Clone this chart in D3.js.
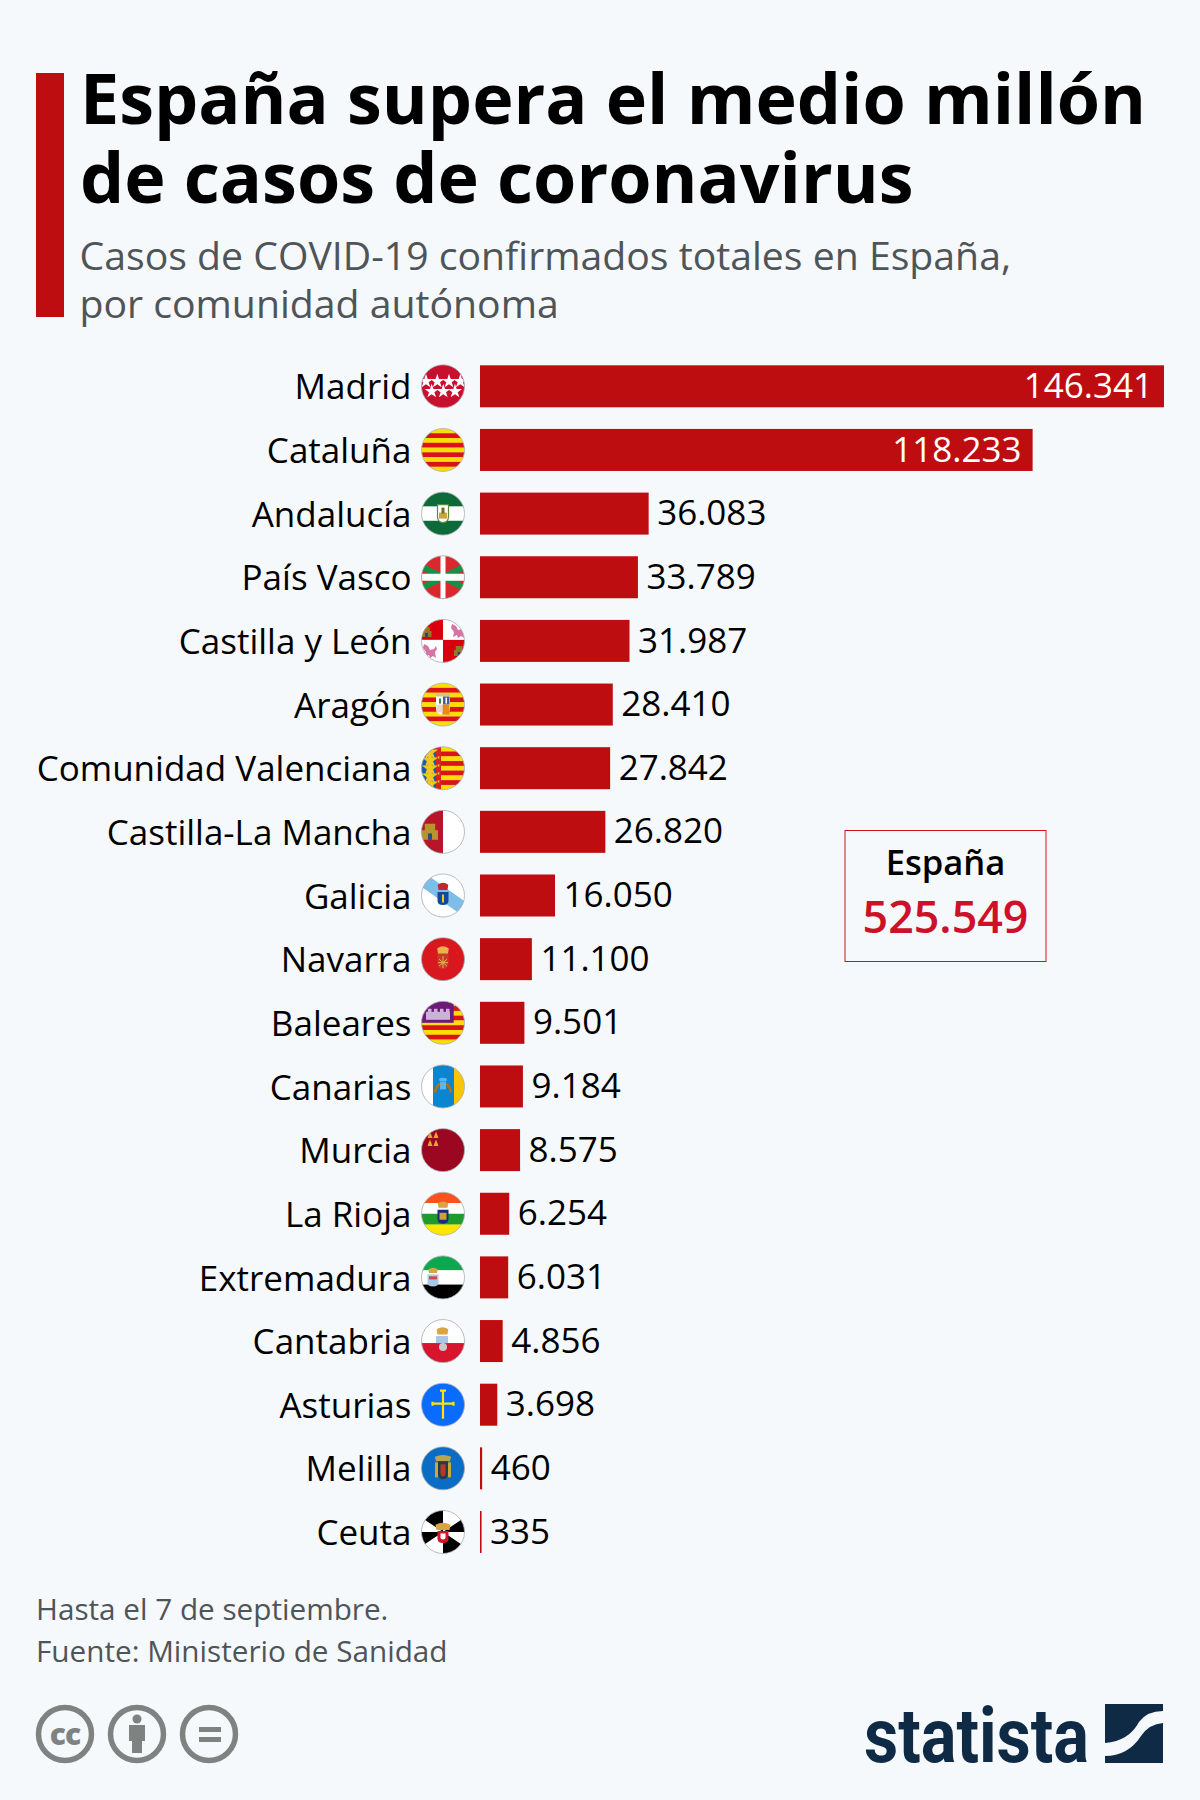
<!DOCTYPE html>
<html>
<head>
<meta charset="utf-8">
<script src="https://cdn.jsdelivr.net/npm/d3@7"></script>
<style>
html, body { margin: 0; padding: 0; background: #f5f9fc; }
svg { display: block; font-family: "Open Sans", sans-serif; }
</style>
</head>
<body>
<svg width="1200" height="1800"></svg>
<script>
const regiones = ["Madrid", "Cataluña", "Andalucía", "País Vasco", "Castilla y León", "Aragón",
  "Comunidad Valenciana", "Castilla-La Mancha", "Galicia", "Navarra", "Baleares", "Canarias",
  "Murcia", "La Rioja", "Extremadura", "Cantabria", "Asturias", "Melilla", "Ceuta"];
const casos = [146341, 118233, 36083, 33789, 31987, 28410, 27842, 26820, 16050, 11100, 9501, 9184,
  8575, 6254, 6031, 4856, 3698, 460, 335];
const titulo = ["España supera el medio millón", "de casos de coronavirus"];
const subtitulo = ["Casos de COVID-19 confirmados totales en España,", "por comunidad autónoma"];
const notas = ["Hasta el 7 de septiembre.", "Fuente: Ministerio de Sanidad"];
const total = 525549;

const rojo = "#bd0d10";
const svg = d3.select("svg");
const fmt = d3.formatLocale({ decimal: ",", thousands: ".", grouping: [3], currency: ["", "€"] }).format(",d");

// cabecera
svg.append("rect").attr("x", 36).attr("y", 73).attr("width", 28).attr("height", 244).attr("fill", rojo);

svg.append("g").selectAll("text").data(titulo).join("text")
  .attr("x", 80).attr("y", (d, i) => 124 + i * 79)
  .attr("font-size", 70).attr("font-weight", 700).attr("fill", "#000")
  .text(d => d);

svg.append("g").selectAll("text").data(subtitulo).join("text")
  .attr("x", 79.5).attr("y", (d, i) => 270 + i * 48)
  .attr("font-size", 39.2).attr("fill", "#4e5457")
  .text(d => d);

// escalas
const x = d3.scaleLinear().domain([0, 146341]).range([480, 1164]);
const y = d3.scalePoint().domain(regiones).range([365.3, 365.3 + 18 * 63.65]);
const altoBarra = 42;

const filas = svg.append("g").selectAll("g").data(regiones).join("g")
  .attr("transform", d => `translate(0,${y(d)})`);

filas.append("rect")
  .attr("x", x(0)).attr("y", 0)
  .attr("width", (d, i) => x(casos[i]) - x(0))
  .attr("height", altoBarra)
  .attr("fill", rojo);

filas.append("text")
  .attr("x", 411.5).attr("y", 21.5).attr("dy", "0.36em")
  .attr("text-anchor", "end").attr("font-size", 35).attr("fill", "#000")
  .text(d => d);

filas.append("text")
  .attr("x", (d, i) => casos[i] > 100000 ? x(casos[i]) - 11 : x(casos[i]) + 8.5)
  .attr("y", 20).attr("dy", "0.36em")
  .attr("text-anchor", (d, i) => casos[i] > 100000 ? "end" : "start")
  .attr("font-size", 35)
  .attr("fill", (d, i) => casos[i] > 100000 ? "#fff" : "#000")
  .text((d, i) => fmt(casos[i]));

// banderas
const defs = svg.append("defs");
defs.append("clipPath").attr("id", "disco").append("circle").attr("r", 21.5);

const star = d3.symbol().type(d3.symbolStar);
const amarillo = "#fcdd09", rojoFlag = "#da121a";
const barras = [amarillo, rojoFlag, amarillo, rojoFlag, amarillo, rojoFlag, amarillo, rojoFlag, amarillo];

function franjas(g, colores) {
  const h = 43 / colores.length;
  colores.forEach((c, i) => g.append("rect").attr("x", -22).attr("y", -21.5 + i * h)
    .attr("width", 44).attr("height", h + 0.3).attr("fill", c));
}
function columnas(g, trozos) {
  let x0 = -21.5;
  trozos.forEach(([c, w]) => {
    g.append("rect").attr("x", x0).attr("y", -22).attr("width", w + 0.3).attr("height", 44).attr("fill", c);
    x0 += w;
  });
}
function caja(g, x0, y0, w, h, c) {
  return g.append("rect").attr("x", x0).attr("y", y0).attr("width", w).attr("height", h).attr("fill", c);
}
function escudo(g, cx, cy, w, h, c) {
  return g.append("path")
    .attr("d", `M${cx - w / 2},${cy - h / 2}h${w}v${h * 0.65}q0,${h * 0.35} ${-w / 2},${h * 0.35}q${-w / 2},0 ${-w / 2},${-h * 0.35}z`)
    .attr("fill", c);
}
function corona(g, cx, cy, w, h, c) {
  g.append("path")
    .attr("d", `M${cx - w / 2},${cy + h / 2}l${-w * 0.08},${-h * 0.75}q${w * 0.58},${-h * 0.6} ${w * 1.16},0l${-w * 0.08},${h * 0.75}z`)
    .attr("fill", c);
}
function castillo(g, cx, cy, s, c, puerta) {
  g.append("path")
    .attr("d", `M${cx - s},${cy + s}V${cy - s * 0.2}h${s * 0.35}V${cy - s}h${s * 1.3}V${cy - s * 0.2}h${s * 0.35}V${cy + s}z`)
    .attr("fill", c);
  caja(g, cx - s * 0.25, cy + s * 0.2, s * 0.5, s * 0.8, puerta);
}
function leon(g, cx, cy, c) {
  g.append("path")
    .attr("d", `M${cx - 6},${cy - 7}l4,2l2,4l4,-1l2,-3l1,3l-2,3l1,6l-3,-2l-3,2l-1,-3l-4,2l1,-5l-3,-4z`)
    .attr("fill", c);
}

const banderas = {
  "Madrid": g => {
    franjas(g, ["#c8102e"]);
    [[-17, -5], [-5.7, -5], [6, -5], [17.3, -5], [-11.3, 5], [0.3, 5], [12, 5]].forEach(p =>
      g.append("path").attr("d", star.size(62)()).attr("fill", "#fff").attr("transform", `translate(${p[0]},${p[1]})`));
  },
  "Cataluña": g => franjas(g, barras),
  "Andalucía": g => {
    franjas(g, ["#0d6b3a", "#fff", "#0d6b3a"]);
    escudo(g, 0, 0, 11, 18, "#fff").attr("stroke", "#5a8a3a").attr("stroke-width", 1.2);
    caja(g, -4, -1, 8, 6, "#c9a83a");
    caja(g, -1.5, -6, 3, 6, "#7a6a22");
  },
  "País Vasco": g => {
    franjas(g, ["#d9292c"]);
    g.append("path").attr("d", "M-22,-11L22,11M22,-11L-22,11").attr("stroke", "#0f9447").attr("stroke-width", 6);
    caja(g, -2.5, -22, 5, 44, "#fff");
    caja(g, -22, -3.5, 44, 7, "#fff");
  },
  "Castilla y León": g => {
    caja(g, -22, -22, 22, 21, "#d8000c");
    caja(g, 0, -22, 22, 21, "#fff");
    caja(g, -22, -1, 22, 23, "#fff");
    caja(g, 0, -1, 22, 23, "#d8000c");
    castillo(g, -16.5, -9, 5, "#8f7a2a", "#2a3b7a");
    castillo(g, 16, 10, 5, "#8f7a2a", "#2a3b7a");
    leon(g, 15, -10, "#d873a6");
    leon(g, -13, 10, "#d873a6");
  },
  "Aragón": g => {
    franjas(g, barras);
    caja(g, -7, -11, 14, 4, "#d9c27a");
    escudo(g, 0, 1, 14, 18, "#fff");
    caja(g, 0, -8, 6.5, 8, "#4a5a9a");
    caja(g, -0.7, 0, 7.2, 10, "#e08a20");
    caja(g, -6.5, 0, 6, 8, "#e6d6cc");
    caja(g, -4, -6, 2, 5, "#2f8a4a");
    caja(g, 2.5, -7, 1.5, 6, "#fff");
  },
  "Comunidad Valenciana": g => {
    franjas(g, barras);
    caja(g, -22, -22, 15, 44, "#1a5bb0");
    caja(g, -7, -22, 5, 44, "#d8231f");
    [-16, -8, 0, 8, 16].forEach(c => g.append("path").attr("d", star.size(85)()).attr("fill", "#f2c81e").attr("transform", `translate(-13,${c})`));
    [-12, -4, 4, 12].forEach(c => caja(g, -5, c, 1.4, 2.5, "#e8b52a"));
  },
  "Castilla-La Mancha": g => {
    franjas(g, ["#fff"]);
    caja(g, -22, -22, 22, 44, "#b8152b");
    castillo(g, -13, 0, 8, "#b8952a", "#2a4a8a");
  },
  "Galicia": g => {
    franjas(g, ["#fff"]);
    g.append("path").attr("d", "M-22,-17L22,14").attr("stroke", "#7dbde8").attr("stroke-width", 13);
    corona(g, 0, -9, 9, 7, "#c1272d");
    escudo(g, 0, 3, 11, 13, "#0f4a9e");
    caja(g, -1, -1, 2, 8, "#f2c81e");
  },
  "Navarra": g => {
    franjas(g, ["#d8171e"]);
    corona(g, 0, -9, 10, 7, "#e9b44c");
    escudo(g, 0, 2, 11, 15, "#c93a2a");
    g.append("path").attr("d", "M-4,0L4,7M4,0L-4,7M0,-3V9M-5,3.5H5").attr("stroke", "#e9b44c").attr("stroke-width", 1);
  },
  "Baleares": g => {
    franjas(g, barras);
    caja(g, -22, -22, 32.7, 22, "#6b1a7a");
    caja(g, -17, -11, 24, 8, "#cbb3d6");
    [-15, -9, -3, 3].forEach(c => caja(g, c, -14, 3.5, 4, "#cbb3d6"));
  },
  "Canarias": g => {
    columnas(g, [["#fff", 11.5], ["#0a85cf", 21], ["#fcc500", 11]]);
    g.append("path").attr("d", "M-8,6Q-6,-4 -1,-2M8,6Q6,-4 1,-2").attr("stroke", "#a9701d").attr("stroke-width", 3).attr("fill", "none");
    caja(g, -3, -5, 6, 8, "#5db6e6");
    corona(g, 0, -7, 7, 3, "#5db6e6");
  },
  "Murcia": g => {
    franjas(g, ["#9b0620"]);
    [[-13, -15], [-7, -15], [-13, -7], [-7, -7]].forEach(p =>
      g.append("path").attr("d", `M${p[0] - 2.5},${p[1] + 3}L${p[0]},${p[1] - 3.5}L${p[0] + 2.5},${p[1] + 3}z`).attr("fill", "#e8a62b"));
  },
  "La Rioja": g => {
    franjas(g, ["#ff4f1f", "#fff", "#1f9a2e", "#ffe500"]);
    corona(g, 0, -9, 9, 6, "#d9a441");
    escudo(g, 0, 3, 11, 14, "#1b2a7a");
    caja(g, -3.5, -1, 7, 7, "#c9a23a");
  },
  "Extremadura": g => {
    franjas(g, ["#0aa84f", "#fff", "#000"]);
    corona(g, -10, -7, 8, 5, "#d9a441");
    escudo(g, -10, 3, 11, 12, "#a7c8e6");
    caja(g, -14, -1, 8, 3, "#d8434a");
  },
  "Cantabria": g => {
    caja(g, -22, -22, 44, 24, "#fff");
    caja(g, -22, 2, 44, 20, "#d8152e");
    corona(g, -0.5, -10, 10, 7, "#d9a441");
    caja(g, -7, -5, 12, 7, "#a9c6e8");
    g.append("circle").attr("cy", 6).attr("r", 4).attr("fill", "#c9c9c9");
  },
  "Asturias": g => {
    franjas(g, ["#0a6cff"]);
    g.append("path").attr("d", "M0,-14V14M-10.5,-1H10.5M-3,-14H3M-10.5,-3V1M10.5,-3V1").attr("stroke", "#ffe400").attr("stroke-width", 2.2).attr("fill", "none");
  },
  "Melilla": g => {
    franjas(g, ["#0b6cc4"]);
    corona(g, 0, -10, 14, 6, "#b9a451");
    caja(g, -8, -6, 3, 15, "#c9a83a");
    caja(g, 5, -6, 3, 15, "#c9a83a");
    escudo(g, 0, 2, 10, 18, "#273a4a");
    escudo(g, 0, 2, 5, 12, "#b23a2a");
  },
  "Ceuta": g => {
    franjas(g, ["#fff"]);
    [[304, 360], [56, 90], [124, 180], [236, 270]].forEach(([a0, a1]) => {
      const arc = d3.arc().innerRadius(0).outerRadius(23).startAngle(a0 * Math.PI / 180).endAngle(a1 * Math.PI / 180);
      g.append("path").attr("d", arc()).attr("fill", "#000");
    });
    corona(g, 0, -5.5, 13, 7, "#d9a441");
    escudo(g, 0, 5, 11, 12, "#d3152a");
    escudo(g, 0, 4.5, 5, 6, "#fff");
  }
};

const flags = filas.append("g").attr("transform", `translate(443,21)`);
flags.each(function (d) {
  const g = d3.select(this).append("g").attr("clip-path", "url(#disco)");
  banderas[d](g);
});
flags.append("circle").attr("r", 21.5).attr("fill", "none").attr("stroke", "#a9adb0").attr("stroke-width", 0.8);

// recuadro total
svg.append("rect").attr("x", 845).attr("y", 830.5).attr("width", 201).attr("height", 131)
  .attr("fill", "none").attr("stroke", "#d0121f").attr("stroke-width", 1);
svg.append("text").attr("x", 945.5).attr("y", 875).attr("text-anchor", "middle")
  .attr("font-size", 34.6).attr("font-weight", 600).attr("fill", "#000").text("España");
svg.append("text").attr("x", 945.5).attr("y", 933).attr("text-anchor", "middle")
  .attr("font-size", 44.8).attr("font-weight", 600).attr("fill", "#cc1128").text(fmt(total));

// pie
svg.append("g").selectAll("text").data(notas).join("text")
  .attr("x", 36).attr("y", (d, i) => 1619.5 + i * 42)
  .attr("font-size", 29.7).attr("fill", "#4e5457")
  .text(d => d);

const cc = svg.append("g").attr("fill", "none").attr("stroke", "#7e8382").attr("stroke-width", 5.5);
[65, 137, 209].forEach(cx => cc.append("circle").attr("cx", cx).attr("cy", 1734).attr("r", 26.5));
svg.append("text").attr("x", 65).attr("y", 1745).attr("text-anchor", "middle")
  .attr("font-size", 30).attr("font-weight", 800).attr("letter-spacing", -1).attr("fill", "#7e8382").text("cc");
svg.append("circle").attr("cx", 137).attr("cy", 1719).attr("r", 4.5).attr("fill", "#7e8382");
svg.append("path").attr("d", "M129,1725h16v16h-3v12h-10v-12h-3z").attr("fill", "#7e8382");
svg.append("rect").attr("x", 199).attr("y", 1727).attr("width", 22).attr("height", 5).attr("fill", "#7e8382");
svg.append("rect").attr("x", 199).attr("y", 1737).attr("width", 22).attr("height", 5).attr("fill", "#7e8382");

// logo
svg.append("text").attr("x", 864).attr("y", 1762)
  .attr("font-family", "Roboto, sans-serif").attr("font-size", 76).attr("font-weight", 700)
  .attr("fill", "#0f2a44").attr("textLength", 225).attr("lengthAdjust", "spacingAndGlyphs").text("statista");
svg.append("path")
  .attr("d", "M1105,1704H1163V1711Q1147,1711 1139,1722Q1129,1741 1105,1743z M1163,1723V1763H1105V1756Q1128,1756 1141,1736Q1149,1724 1163,1723z")
  .attr("fill", "#0f2a44");
</script>
</body>
</html>
